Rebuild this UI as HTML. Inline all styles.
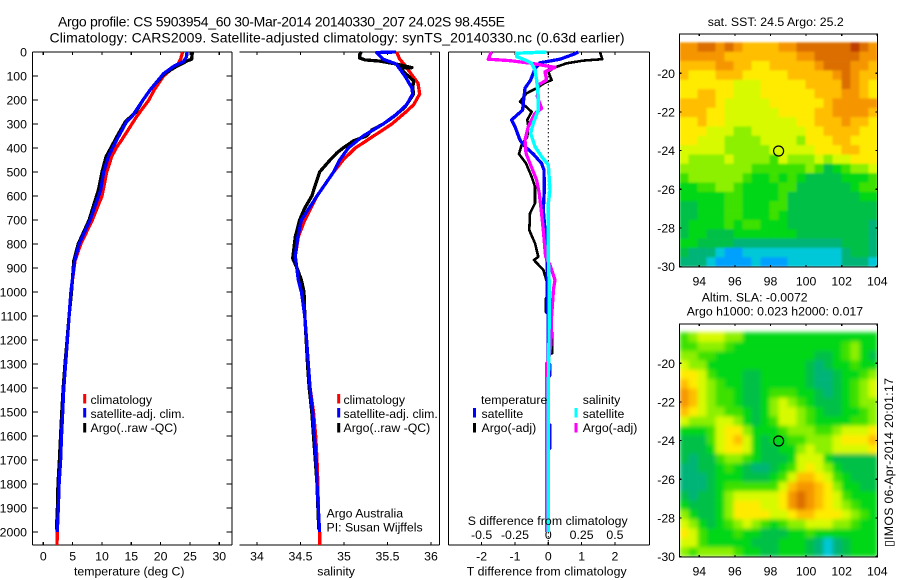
<!DOCTYPE html>
<html>
<head>
<meta charset="utf-8">
<title>Argo profile</title>
<style>
html,body{margin:0;padding:0;background:#fff;}
svg{display:block;}
text{font-family:"Liberation Sans",Arial,sans-serif;font-size:12.3px;fill:#000;}
</style>
</head>
<body>
<svg id="fig" xmlns="http://www.w3.org/2000/svg" width="900" height="580" viewBox="0 0 900 580">
<defs>
<clipPath id="cp1"><rect x="32.5" y="50" width="200" height="495"/></clipPath>
<clipPath id="cp2"><rect x="239.5" y="50" width="200" height="495"/></clipPath>
<clipPath id="cp3"><rect x="448.5" y="50" width="201" height="495"/></clipPath>
<clipPath id="cpm1"><rect x="679.5" y="34" width="198" height="233"/></clipPath>
<clipPath id="cpm2"><rect x="679.5" y="324" width="198" height="233"/></clipPath>
<filter id="soft1" filterUnits="userSpaceOnUse" x="660" y="20" width="240" height="260"><feGaussianBlur stdDeviation="1" edgeMode="duplicate"/></filter>
<filter id="soft2" filterUnits="userSpaceOnUse" x="660" y="310" width="240" height="260"><feGaussianBlur stdDeviation="2" edgeMode="duplicate"/></filter>
</defs>

<text x="58" y="26.7" style="font-size:14px" textLength="447" lengthAdjust="spacing">Argo profile: CS 5903954_60 30-Mar-2014 20140330_207 24.02S 98.455E</text>
<text x="49.5" y="42.7" style="font-size:14px" textLength="575" lengthAdjust="spacing">Climatology: CARS2009. Satellite-adjusted climatology: synTS_20140330.nc (0.63d earlier)</text>

<g id="p1"></g>
<g id="p2"></g>
<g id="p3"></g>
<g id="m1"></g>
<g id="m2"></g>

<text x="74" y="575.7" textLength="110.5">temperature (deg C)</text>
<text x="317.3" y="575.7">salinity</text>
<text x="466.7" y="575.7" textLength="160">T difference from climatology</text>
<text x="467.7" y="525" textLength="160">S difference from climatology</text>

<g>
<rect x="83.2" y="394" width="3" height="9.5" fill="#f00"/>
<text x="90.5" y="404">climatology</text>
<rect x="83.2" y="408" width="3" height="9.5" fill="#00f"/>
<text x="90.5" y="418">satellite-adj. clim.</text>
<rect x="83.2" y="423" width="3" height="9.5" fill="#000"/>
<text x="90.5" y="432">Argo(..raw -QC)</text>
</g>
<g>
<rect x="337.2" y="394" width="3" height="9.5" fill="#f00"/>
<text x="343.5" y="404">climatology</text>
<rect x="337.2" y="408" width="3" height="9.5" fill="#00f"/>
<text x="343.5" y="418">satellite-adj. clim.</text>
<rect x="337.2" y="423" width="3" height="9.5" fill="#000"/>
<text x="343.5" y="432">Argo(..raw -QC)</text>
</g>
<text x="326.5" y="517.7">Argo Australia</text>
<text x="326.5" y="531.7">PI: Susan Wijffels</text>

<g>
<text x="481" y="404">temperature</text>
<rect x="473" y="408" width="3" height="9.5" fill="#00f"/>
<text x="481.5" y="418">satellite</text>
<rect x="473" y="423" width="3" height="9.5" fill="#000"/>
<text x="481.5" y="432">Argo(-adj)</text>
<text x="582.7" y="404">salinity</text>
<rect x="574.5" y="408" width="3" height="9.5" fill="#0ff"/>
<text x="582.7" y="418">satellite</text>
<rect x="574.5" y="423" width="3" height="9.5" fill="#f0f"/>
<text x="582.7" y="432">Argo(-adj)</text>
</g>

<text x="707.7" y="26">sat. SST: 24.5 Argo: 25.2</text>
<text x="701.7" y="301.7">Altim. SLA: -0.0072</text>
<text x="686.7" y="315.7">Argo h1000: 0.023 h2000: 0.017</text>
<text transform="translate(893 547) rotate(-90)" textLength="169">▯IMOS 06-Apr-2014 20:01:17</text>
</svg>

<script>
/* ---------- axis tick values ---------- */
const depthTicks = [0,100,200,300,400,500,600,700,800,900,1000,1100,1200,1300,1400,1500,1600,1700,1800,1900,2000];
const tempTicks = [0,5,10,15,20,25,30];
const salTicks = [34,34.5,35,35.5,36];
const salTickLabels = ['34','34.5','35','35.5','36'];
const tDiffTicks = [-2,-1,0,1,2];
const tDiffLabels = ['-2','-1','0','1','2'];
const sDiffTicks = [-0.5,-0.25,0,0.25,0.5];
const sDiffLabels = ['-0.5','-0.25','0','0.25','0.5'];
const lonTicks = [94,96,98,100,102,104];
const latTicks = [-20,-22,-24,-26,-28,-30];

/* ---------- temperature profiles ---------- */
const tempClimDepth = [0,30,50,70,100,158,200,269,300,367,400,436,500,600,700,800,870,1000,1100,1200,1300,1400,1500,1600,1700,1800,1900,2000,2054];
const tempClimValues = [23.75,23.4,23.0,21.9,20.5,18.9,18.0,15.9,15.1,13.35,12.4,11.65,10.8,10.0,8.35,6.4,5.4,4.7,4.4,4.1,3.8,3.5,3.3,3.1,2.95,2.7,2.55,2.38,2.33];
const tempSatDepth = [0,20,40,60,90,158,200,269,290,367,400,436,500,575,700,800,870,1000,1100,1200,1300,1400,1500,1600,1700,1800,1900,2000];
const tempSatValues = [24.5,24.4,23.9,22.2,20.5,18.2,17.0,15.1,14.2,12.5,11.8,11.1,10.3,9.78,8.0,6.1,5.35,4.7,4.4,4.1,3.8,3.5,3.3,3.1,2.95,2.7,2.55,2.38];
const tempArgoDepth = [0,30,35,60,90,150,200,250,290,350,400,436,500,575,700,800,870,1000,1100,1200,1300,1400,1500,1600,1700,1800,1900,1990];
const tempArgoValues = [25.4,25.3,24.7,22.7,20.7,18.45,17.0,15.8,14.0,12.6,11.5,10.7,10.0,9.4,7.8,5.95,5.2,4.8,4.4,4.05,3.7,3.4,3.15,2.95,2.75,2.5,2.4,2.25];

/* ---------- salinity profiles ---------- */
const salClimDepth = [0,30,50,100,130,175,220,250,300,350,400,450,500,600,700,770,850,950,1000,1100,1200,1300,1400,1500,1600,1700,1800,1900,2000,2054];
const salClimValues = [35.605,35.64,35.69,35.79,35.85,35.87,35.80,35.71,35.55,35.34,35.13,34.99,34.88,34.69,34.55,34.475,34.44,34.475,34.51,34.55,34.57,34.59,34.61,34.65,34.675,34.69,34.70,34.705,34.72,34.72];
const salSatDepth = [0,2,15,30,50,100,150,175,220,260,300,350,400,450,500,600,700,770,850,950,1000,1100,1200,1300,1400,1500,1600,1700,1800,1900,2000];
const salSatValues = [35.6,35.375,35.41,35.45,35.6,35.70,35.78,35.79,35.72,35.6,35.45,35.22,35.05,34.95,34.88,34.69,34.51,34.47,34.44,34.475,34.51,34.55,34.57,34.59,34.61,34.64,34.66,34.68,34.69,34.705,34.72];
const salArgoDepth = [0,10,25,33,38,50,65,68,120,150,175,230,270,300,325,350,370,400,420,450,500,600,650,700,770,860,900,950,1000,1100,1200,1300,1400,1500,1600,1700,1800,1900,1990];
const salArgoValues = [35.2,35.18,35.18,35.24,35.41,35.6,35.78,35.64,35.80,35.79,35.80,35.70,35.57,35.45,35.32,35.26,35.11,34.99,34.92,34.84,34.72,34.63,34.55,34.49,34.44,34.41,34.46,34.51,34.54,34.55,34.565,34.58,34.60,34.63,34.65,34.67,34.69,34.70,34.71];

/* ---------- difference profiles ---------- */
const tSatDiffDepth = [0,10,30,45,70,117,151,214,242,283,311,367,394,425,464,492,575,658,742,853,870,1080,1090,1295,1300,1350,1355,1550,1555,1650,1655,2000];
const tSatDiffValues = [0.9,0.75,0.35,-0.25,-0.4,-0.53,-0.7,-0.75,-0.77,-1.1,-1.0,-0.85,-0.7,-0.45,-0.2,-0.13,-0.12,-0.15,-0.1,-0.07,-0.04,-0.04,0,0,0.04,0.04,0,0,0.05,0.05,0,-0.03];
const tArgoDiffDepth = [0,30,36,47,64,82,117,128,151,172,207,230,249,283,311,353,387,425,464,519,561,630,672,742,797,853,867,908,978,1020,1025,1085,1090,1165,1170,1255,1260,1375,1380,2000];
const tArgoDiffValues = [1.55,1.62,1.05,0.55,0.2,0,0.1,-0.1,-0.35,-0.65,-0.85,-0.65,-0.5,-0.63,-0.6,-0.63,-0.8,-0.88,-0.67,-0.5,-0.4,-0.4,-0.55,-0.57,-0.4,-0.3,-0.43,-0.15,0,0,-0.07,-0.07,0,0,0.12,0.12,0,0,-0.06,-0.05];
const sArgoDiffDepth = [0,12,30,36,47,64,82,117,137,186,235,256,311,367,422,464,533,589,672,742,853,887,950,985,1100,1214,1290,1297,2000];
const sArgoDiffValues = [-0.425,-0.4375,-0.45,-0.2925,-0.125,0.05,-0.025,-0.0125,-0.075,-0.0825,-0.05,-0.1,-0.15,-0.175,-0.1675,-0.1375,-0.0875,-0.0675,-0.05,-0.0375,-0.02,0.0125,0.05,0.04,0.025,0.02,0,-0.012,-0.012];
const sSatDiffDepth = [0,5,19,33,47,75,117,186,242,297,339,394,436,471,575,630,853,978,1200,1400,2000];
const sSatDiffValues = [-0.0125,-0.2375,-0.2375,-0.175,-0.125,-0.1,-0.0875,-0.075,-0.075,-0.1125,-0.1325,-0.1,-0.05,0,0.0125,0,0,0.0075,0.005,0,0];

/* ---------- profile position ---------- */
const profileLon = 98.455;
const profileLat = -24.02;

/* ---------- map colour levels (rows north to south, columns west to east) ---------- */
const sstLevels = [
[10,10,11,11,10,11,10,9,9,9,9,10,10,11,11,11,11,11,11,12,11,10],
[10,10,10,10,10,9,9,9,9,9,9,9,9,10,10,11,11,11,11,11,10,10],
[9,9,9,9,10,10,9,9,8,8,9,9,9,9,9,10,11,11,11,10,10,9],
[9,8,8,8,9,9,9,8,8,8,8,8,9,9,9,9,9,10,11,10,9,9],
[8,8,8,8,8,8,7,7,7,8,8,8,8,8,9,9,9,9,11,10,9,8],
[8,8,9,9,8,8,7,7,7,8,8,8,8,8,8,9,9,9,10,10,9,8],
[9,9,9,9,8,7,7,7,7,7,8,8,8,8,8,8,9,10,10,10,10,10],
[9,9,9,8,8,7,7,7,7,7,7,8,8,8,8,9,9,10,10,10,10,9],
[8,8,9,8,8,7,7,7,7,7,7,7,7,8,8,9,9,9,10,9,9,8],
[8,8,8,7,7,7,6,6,7,7,7,7,7,7,8,8,9,9,9,9,8,8],
[8,8,7,7,7,6,6,6,6,7,7,7,7,6,8,8,8,9,9,8,8,8],
[7,7,7,7,7,6,6,6,6,6,7,7,7,7,7,8,8,8,9,9,8,8],
[7,6,6,6,6,7,6,6,6,6,5,7,6,6,6,7,6,7,7,8,8,8],
[6,6,6,6,6,6,6,6,5,5,5,5,5,5,6,5,3,4,5,6,6,7],
[5,6,6,6,6,6,6,5,4,4,5,4,5,4,3,3,3,3,4,4,4,5],
[4,4,5,5,6,6,5,4,4,4,4,5,5,3,3,3,3,3,3,4,5,5],
[4,4,4,4,4,5,5,4,4,4,4,5,3,3,3,3,3,3,3,3,4,4],
[3,3,4,4,4,5,5,4,4,4,5,5,3,3,3,3,3,3,3,3,3,3],
[3,3,4,4,4,5,5,4,4,4,5,4,3,3,3,3,3,3,3,3,3,3],
[3,4,4,4,4,5,4,5,5,4,4,4,3,3,3,3,3,3,3,3,3,2],
[3,4,4,3,3,3,4,4,4,4,4,4,4,3,3,3,3,3,3,3,3,2],
[4,4,3,3,3,3,2,2,2,2,2,2,2,2,2,2,2,2,3,3,3,2],
[3,2,2,2,1,0,0,1,1,1,1,1,1,1,1,1,1,1,2,3,3,2],
[2,2,2,1,0,0,0,0,1,0,0,0,1,1,1,1,1,1,2,2,2,1]
];
const slaLevels = [
[5,6,7,7,7,6,6,4,4,4,4,4,4,4,4,4,4,4,4,4,4,4],
[5,5,6,6,6,5,4,4,4,4,4,4,4,4,4,4,4,4,5,6,4,4],
[6,6,5,5,4,4,4,4,4,4,4,4,4,4,4,3,3,4,5,6,4,3],
[7,6,6,4,4,4,4,4,4,4,4,4,4,4,3,2,3,4,4,5,4,4],
[8,8,7,5,4,4,4,3,3,4,4,4,4,4,3,2,2,3,4,4,5,6],
[9,8,7,6,5,4,4,3,3,4,4,4,4,4,3,2,2,3,4,5,6,7],
[10,9,7,6,5,5,4,3,3,4,5,5,5,4,4,3,2,3,4,5,6,7],
[10,9,7,6,5,5,4,3,3,4,6,7,6,5,4,3,3,3,4,5,6,6],
[9,8,7,6,6,5,5,4,3,4,6,7,7,6,5,4,3,3,4,4,5,6],
[7,6,6,6,7,7,6,4,3,4,5,7,7,6,5,4,4,4,4,5,5,6],
[4,4,4,5,7,8,8,6,4,4,4,5,6,6,6,5,5,6,7,7,7,8],
[3,3,3,5,7,8,9,7,4,3,4,4,5,5,6,6,6,7,8,8,8,9],
[3,3,3,4,7,8,8,7,4,3,3,4,4,6,7,6,6,7,7,7,7,8],
[3,2,3,3,5,6,6,5,4,3,3,3,4,7,7,7,4,3,3,3,3,3],
[2,2,3,3,4,5,4,3,2,2,3,4,5,7,8,7,6,4,3,3,3,3],
[2,2,2,3,4,4,4,3,3,3,4,5,7,9,9,8,7,5,4,3,3,3],
[2,2,2,3,4,5,5,5,5,5,5,7,9,10,10,9,8,6,4,4,3,3],
[3,2,3,3,4,6,7,7,7,7,7,8,10,11,10,9,8,7,5,4,4,4],
[4,3,3,3,4,6,8,8,8,7,7,8,10,11,10,9,8,7,6,5,4,4],
[6,4,3,3,4,6,8,8,8,8,7,7,8,9,9,8,8,8,7,6,5,4],
[7,6,4,3,4,5,6,7,6,5,4,5,6,6,7,7,7,6,6,5,4,4],
[8,7,5,4,4,4,5,4,4,3,3,3,4,4,5,4,4,4,4,4,4,4],
[7,7,5,4,4,4,4,4,3,3,3,4,4,4,3,2,1,2,3,4,4,4],
[6,5,6,6,6,6,5,4,4,3,3,4,4,4,3,2,1,2,3,4,4,4]
];

/* ---------- helpers ---------- */
const NS = 'http://www.w3.org/2000/svg';
function mk(parent, tag, name, props, txt) {
  const el = document.createElementNS(NS, tag);
  
  
  for (const k in props) el.setAttribute(k, props[k]);
  if (txt !== undefined) el.textContent = txt;
  parent.appendChild(el);
  return el;
}
const yDepth = d => 52 + 0.24 * d;
const xTemp = t => 43.3 + 5.867 * t;
const xSal = s => 257 + 87 * (s - 34);
const xTDiff = t => 548.3 + 33.33 * t;
const xSDiff = s => 548.3 + 133.33 * s;
const xLon = lon => 699.3 + 17.8 * (lon - 94);
const yLat = (lat, top) => top + 39.3 + 19.33 * (-20 - lat);

function line(g, name, x1, y1, x2, y2, w) {
  mk(g, 'line', name, {x1: x1, y1: y1, x2: x2, y2: y2, stroke: '#000', 'stroke-width': w || 1.2, 'shape-rendering': 'crispEdges'});
}
function series(g, name, color, depths, values, xf, clip, width) {
  const pts = depths.map((d, i) => xf(values[i]).toFixed(1) + ',' + yDepth(d).toFixed(1)).join(' ');
  mk(g, 'polyline', name, {points: pts, fill: 'none', stroke: color, 'stroke-width': width || 3.3, 'stroke-linejoin': 'round', 'shape-rendering': 'crispEdges', 'clip-path': 'url(#' + clip + ')'});
}
function frame(g, x0, x1, hasLeft) {
  line(g, 'top-axis', x0, 52, x1, 52);
  line(g, 'bottom-axis', x0, 545, x1, 545);
  line(g, 'right-axis', x1, 52, x1, 545);
  if (hasLeft) line(g, 'left-axis', x0, 52, x0, 545);
}
function xTicks(g, ticks, labels, xf, baseline, len) {
  ticks.forEach((t, i) => {
    line(g, 'x-tick-top', xf(t), 52, xf(t), 52 + len);
    line(g, 'x-tick-bottom', xf(t), 545, xf(t), 545 - len);
    mk(g, 'text', 'x-tick-label', {x: xf(t), y: baseline, 'text-anchor': 'middle'}, labels[i]);
  });
}

/* ---------- temperature panel ---------- */
const p1 = document.getElementById('p1');
frame(p1, 32.5, 232, true);
xTicks(p1, tempTicks, tempTicks.map(String), xTemp, 560.7, 3);
depthTicks.forEach(d => {
  line(p1, 'y-tick-left', 32.5, yDepth(d), 38, yDepth(d));
  line(p1, 'y-tick-right', 226.5, yDepth(d), 232, yDepth(d));
  mk(p1, 'text', 'y-tick-label', {x: 27, y: yDepth(d) + 4.5, 'text-anchor': 'end'}, String(d));
});
series(p1, 'temperature-climatology-line', '#f00', tempClimDepth, tempClimValues, xTemp, 'cp1');
series(p1, 'temperature-argo-line', '#000', tempArgoDepth, tempArgoValues, xTemp, 'cp1');
series(p1, 'temperature-satellite-line', '#00f', tempSatDepth, tempSatValues, xTemp, 'cp1');

/* ---------- salinity panel ---------- */
const p2 = document.getElementById('p2');
frame(p2, 239.5, 439.5, false);
xTicks(p2, salTicks, salTickLabels, xSal, 560.7, 3);
series(p2, 'salinity-climatology-line', '#f00', salClimDepth, salClimValues, xSal, 'cp2');
series(p2, 'salinity-argo-line', '#000', salArgoDepth, salArgoValues, xSal, 'cp2');
series(p2, 'salinity-satellite-line', '#00f', salSatDepth, salSatValues, xSal, 'cp2');

/* ---------- difference panel ---------- */
const p3 = document.getElementById('p3');
frame(p3, 448.5, 649.5, true);
tDiffTicks.forEach((t, i) => {
  line(p3, 't-tick-bottom', xTDiff(t), 545, xTDiff(t), 542);
  line(p3, 't-tick-top', xTDiff(t), 52, xTDiff(t), 55);
  mk(p3, 'text', 't-tick-label', {x: xTDiff(t), y: 560.7, 'text-anchor': 'middle'}, tDiffLabels[i]);
});
sDiffTicks.forEach((s, i) => {
  mk(p3, 'text', 's-tick-label', {x: xSDiff(s), y: 539, 'text-anchor': 'middle'}, sDiffLabels[i]);
});
mk(p3, 'line', 'zero-reference-line', {x1: xTDiff(0), y1: 52, x2: xTDiff(0), y2: 545, stroke: '#000', 'stroke-width': 1, 'stroke-dasharray': '1.5 2.5'});
series(p3, 't-argo-difference-line', '#000', tArgoDiffDepth, tArgoDiffValues, xTDiff, 'cp3', 2.6);
series(p3, 't-satellite-difference-line', '#00f', tSatDiffDepth, tSatDiffValues, xTDiff, 'cp3');
series(p3, 's-argo-difference-line', '#f0f', sArgoDiffDepth, sArgoDiffValues, xSDiff, 'cp3');
series(p3, 's-satellite-difference-line', '#0ff', sSatDiffDepth, sSatDiffValues, xSDiff, 'cp3', 3.4);

/* ---------- maps ---------- */
const ramp = ['#00a0ff','#00c8d8','#00b478','#00c046','#00d716','#3ce100','#8cf000','#d7fa00','#ffeb00','#ffbe00','#f59600','#dc6e00','#be3c00'];
function levelColor(v) {
  const i = Math.max(0, Math.min(ramp.length - 1, Math.round(v)));
  return ramp[i];
}
function drawMap(id, top, levels, clip, filter, markerStroke) {
  const g = document.getElementById(id);
  const cells = mk(g, 'g', 'map-cells', {'clip-path': 'url(#' + clip + ')'});
  const inner = mk(cells, 'g', 'map-cell-grid', {filter: 'url(#' + filter + ')'});
  const cols = levels[0].length, rows = levels.length;
  const lonMin = 92.89, lonStep = 11.12 / cols;
  const latMax = -18.4, latStep = 11.6 / rows;
  levels.forEach((row, r) => {
    row.forEach((v, c) => {
      const x0 = xLon(lonMin + c * lonStep), x1 = xLon(lonMin + (c + 1) * lonStep);
      const y0 = yLat(latMax - r * latStep, top), y1 = yLat(latMax - (r + 1) * latStep, top);
      mk(inner, 'rect', 'map-cell', {x: x0.toFixed(2), y: y0.toFixed(2), width: (x1 - x0 + 0.3).toFixed(2), height: (y1 - y0 + 0.3).toFixed(2), fill: levelColor(v)});
    });
  });
  const x0 = 679.5, x1 = 877.5, y0 = top, y1 = top + 233;
  mk(g, 'rect', 'map-frame', {x: x0, y: y0, width: x1 - x0, height: y1 - y0, fill: 'none', stroke: '#000', 'stroke-width': 1.2, 'shape-rendering': 'crispEdges'});
  lonTicks.forEach(l => {
    line(g, 'lon-tick-top', xLon(l), y0, xLon(l), y0 + 2);
    line(g, 'lon-tick-bottom', xLon(l), y1, xLon(l), y1 - 2);
    mk(g, 'text', 'lon-tick-label', {x: xLon(l), y: y1 + 18.3, 'text-anchor': 'middle'}, String(l));
  });
  latTicks.forEach(l => {
    line(g, 'lat-tick-left', x0, yLat(l, top), x0 + 2, yLat(l, top));
    line(g, 'lat-tick-right', x1, yLat(l, top), x1 - 2, yLat(l, top));
    mk(g, 'text', 'lat-tick-label', {x: 675, y: yLat(l, top) + 4.5, 'text-anchor': 'end'}, String(l));
  });
  mk(g, 'circle', 'argo-profile-marker', {cx: xLon(profileLon), cy: yLat(profileLat, top), r: 5, fill: 'none', stroke: markerStroke, 'stroke-width': 1.2});
}
drawMap('m1', 34, sstLevels, 'cpm1', 'soft1', '#000');
drawMap('m2', 324, slaLevels, 'cpm2', 'soft2', '#000');
</script>
</body>
</html>
